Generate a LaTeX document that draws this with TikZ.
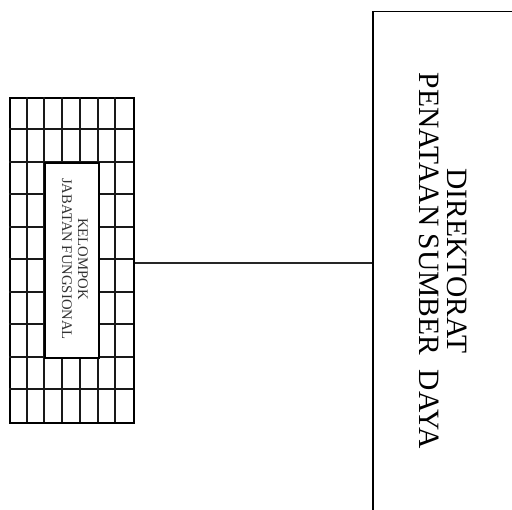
\documentclass[tikz,border=0pt]{standalone}
\usepackage{fontspec}
\setmainfont{Liberation Serif}
\begin{document}
\begin{tikzpicture}[x=1pt,y=-1pt,
  gridline/.style={line width=2pt, black!90},
  boxline/.style={draw, line width=2pt, inner sep=0pt, anchor=north west},
  conn/.style={line width=1.4pt, black!85}]
\useasboundingbox (0,0) rectangle (512,510);
\fill[white] (0,0) rectangle (512,510);
\clip (0,0) rectangle (512,510);
% grid box
\node[boxline, minimum width=124pt, minimum height=324.7pt] (kel) at (9,97) {};
\foreach \i in {1,...,6} \draw[gridline] (9+\i*17.714,97) -- (9+\i*17.714,421.7);
\foreach \j in {1,...,9} \draw[gridline] (9,97+\j*32.47) -- (133,97+\j*32.47);
\node[draw, line width=2pt, fill=white, inner sep=0pt, anchor=north west,
      minimum width=53.1pt, minimum height=194.8pt] (inner) at (44.43,161.94) {};
\node[rotate=-90, align=center, text=black!80, font=\fontsize{14.7}{16}\selectfont] (keltext) at (75,259) {KELOMPOK\\JABATAN FUNGSIONAL};
% big box
\node[boxline, line width=1.5pt, minimum width=170pt, minimum height=520pt] (dir) at (372.3,10.7) {};
\node[rotate=-90, align=center, font=\fontsize{29.5}{28}\selectfont] (dirtext) at (443,261) {DIREKTORAT\\PENATAAN SUMBER\ \ DAYA};
% connector
\coordinate (lineY) at (250,263);
\draw[conn] (kel.east |- lineY) -- (dir.west |- lineY);
\end{tikzpicture}
\end{document}
